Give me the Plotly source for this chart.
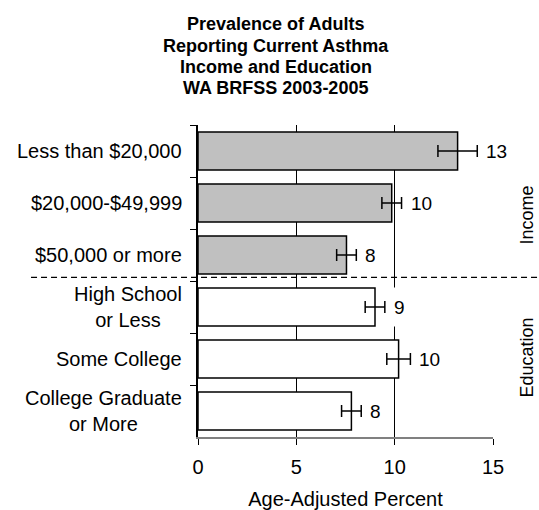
import plotly.graph_objects as go

# Current asthma prevalence by income and education, WA BRFSS 2003-2005
categories = ["Less than $20,000", "$20,000-$49,999", "$50,000 or more",
              "High School<br>or Less", "Some College", "College Graduate<br>or More"]
groups = ["Income", "Income", "Income", "Education", "Education", "Education"]
percent = [13.2, 9.85, 7.55, 9.0, 10.2, 7.8]
ci_half = [1.0, 0.5, 0.5, 0.5, 0.6, 0.5]
x_ticks = [0, 5, 10, 15]

FONT = "Liberation Sans, Arial, sans-serif"
FS = 20

fig = go.Figure()
fill = {"Income": "#c0c0c0", "Education": "#ffffff"}
for g in ["Income", "Education"]:
    idx = [i for i, gg in enumerate(groups) if gg == g]
    fig.add_trace(go.Bar(
        orientation="h",
        y=[categories[i] for i in idx],
        x=[percent[i] for i in idx],
        width=0.73,
        marker=dict(color=fill[g], line=dict(color="black", width=1.5)),
        error_x=dict(type="data", array=[ci_half[i] for i in idx],
                     color="black", thickness=1.5, width=6),
        showlegend=False,
        hoverinfo="skip",
    ))

annotations = []
# value labels beside each error bar
for i, (v, e) in enumerate(zip(percent, ci_half)):
    annotations.append(dict(
        x=v + e, y=i, xref="x", yref="y", text=str(int(v + 0.5)),
        showarrow=False, xanchor="left", yanchor="middle", xshift=8,
        bgcolor="white", height=38, borderpad=0,
        font=dict(family=FONT, size=19, color="black"),
    ))
# category labels
for i, c in enumerate(categories):
    annotations.append(dict(
        x=0, y=i, xref="paper", yref="y", text=c, showarrow=False,
        xanchor="right", yanchor="middle", align="center", xshift=-14,
        font=dict(family=FONT, size=FS, color="black"),
    ))
# group labels on the right
for name, yc in [("Income", 1.23), ("Education", 3.98)]:
    annotations.append(dict(
        x=1.114, y=yc, xref="paper", yref="y", text=name, showarrow=False,
        textangle=-90, xanchor="center", yanchor="middle",
        font=dict(family=FONT, size=18, color="black"),
    ))
# title lines
title_lines = ["Prevalence of Adults", "Reporting Current Asthma",
               "Income and Education", "WA BRFSS 2003-2005"]
for line, yp in zip(title_lines, [1.324, 1.253, 1.186, 1.119]):
    annotations.append(dict(
        x=0.264, y=yp, xref="paper", yref="paper", text="<b>%s</b>" % line,
        showarrow=False, xanchor="center", yanchor="middle",
        font=dict(family=FONT, size=18, color="black"),
    ))

fig.update_layout(
    width=539, height=510,
    margin=dict(l=198, r=46, t=125, b=73),
    paper_bgcolor="white", plot_bgcolor="white",
    barmode="overlay",
    font=dict(family=FONT, size=FS, color="black"),
    annotations=annotations,
    shapes=[dict(type="line", xref="paper", yref="y",
                 x0=-0.566, x1=1.16, y0=2.43, y1=2.43,
                 line=dict(color="black", width=1.2, dash="6px,4px"))],
    xaxis=dict(
        range=[0, 15], tickvals=x_ticks, ticktext=[str(t) for t in x_ticks],
        showgrid=True, gridcolor="black", gridwidth=1, zeroline=False,
        showline=True, linecolor="#808080", linewidth=2,
        ticks="outside", ticklen=6, tickcolor="black", tickwidth=1,
        ticklabelstandoff=5, automargin=False,
        title=dict(text="Age-Adjusted Percent", standoff=36,
                   font=dict(family=FONT, size=FS)),
        tickfont=dict(family=FONT, size=FS),
    ),
    yaxis=dict(
        type="category", categoryarray=categories, range=[5.5, -0.5],
        showticklabels=False, tickson="boundaries", ticks="outside",
        ticklen=6, tickcolor="black", showline=True, linecolor="black",
        linewidth=1.5, showgrid=False, zeroline=False, automargin=False,
    ),
)

fig.write_html("out.html")
